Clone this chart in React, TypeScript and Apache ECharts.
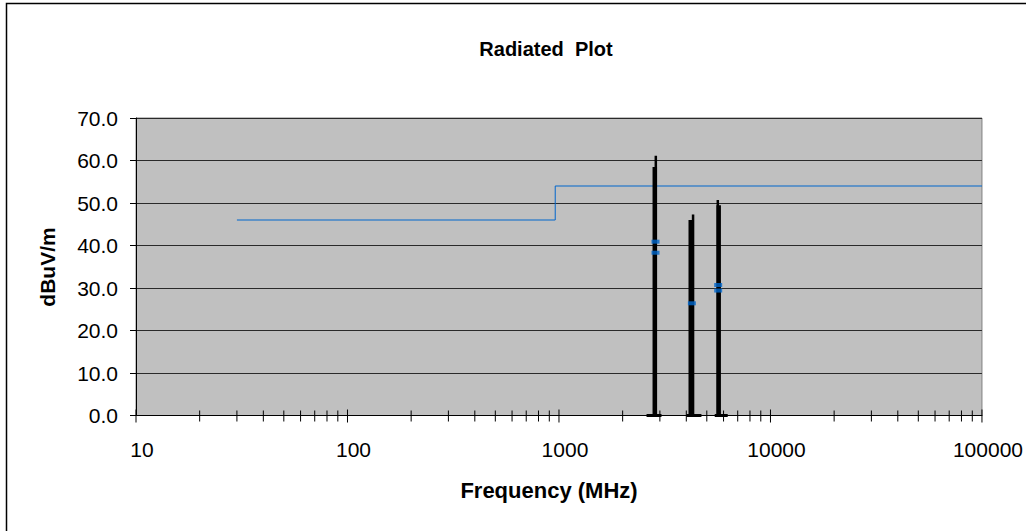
import React, { useEffect, useRef } from "react";
import * as echarts from "echarts";

// Limit line (MHz, dBuV/m)
const limitFreqs = [30, 960, 960, 100000];
const limitLevels = [46, 46, 54, 54];

// Measured emission traces (black bars)
const bodyFreqs = [2838, 4198, 5690];
const bodyLevels = [58.5, 46.0, 49.5];
const spikeFreqs = [2870, 4305, 5636];
const spikeLevels = [61.1, 47.3, 50.7];
const baseStarts = [2594, 4008, 5450];
const baseEnds = [3053, 4716, 6278];

// Blue markers
const markerFreqs = [2860, 2860, 4250, 5660, 5660];
const markerLevels = [40.9, 38.3, 26.4, 30.7, 29.4];

// Axis ticks
const majorTicks = [10, 100, 1000, 10000, 100000];
const minorMantissas = [2, 3, 4, 5, 6, 7, 8, 9];

export default function App() {
  const ref = useRef<HTMLDivElement>(null);
  useEffect(() => {
    if (!ref.current) return;
    const chart = echarts.init(ref.current, undefined, { renderer: "svg" });
    const font = "'Liberation Sans', Arial, sans-serif";
    const minorTicks: number[] = [];
    for (let i = 0; i < majorTicks.length - 1; i++) {
      for (const m of minorMantissas) minorTicks.push(majorTicks[i] * m);
    }
    const tickData = [
      ...majorTicks.map((v) => [v, 1]),
      ...minorTicks.map((v) => [v, 0]),
    ];
    const barRender = (w: number) => (params: any, api: any) => {
      const p0 = api.coord([api.value(0), 0]);
      const p1 = api.coord([api.value(0), api.value(1)]);
      return {
        type: "rect",
        shape: { x: p0[0] - w / 2, y: p1[1], width: w, height: p0[1] - p1[1] },
        style: { fill: "#000" },
      };
    };
    chart.setOption({
      animation: false,
      title: {
        text: "Radiated  Plot",
        left: 541,
        top: 34,
        textAlign: "center",
        textStyle: { fontFamily: font, fontSize: 20, fontWeight: "bold", color: "#000" },
      },
      graphic: [
        {
          type: "rect",
          shape: { x: 6.5, y: 3.5, width: 1040, height: 560 },
          style: { fill: "none", stroke: "#000", lineWidth: 1.5 },
          silent: true,
        },
        {
          type: "text",
          x: 47,
          y: 267,
          rotation: Math.PI / 2,
          style: {
            text: "dBuV/m",
            fontFamily: font,
            fontSize: 21,
            fontWeight: "bold",
            fill: "#000",
            align: "center",
            verticalAlign: "middle",
          },
        },
        {
          type: "text",
          x: 549,
          y: 490,
          style: {
            text: "Frequency (MHz)",
            fontFamily: font,
            fontSize: 22,
            fontWeight: "bold",
            fill: "#000",
            align: "center",
            verticalAlign: "middle",
          },
        },
      ],
      grid: {
        left: 136,
        right: 43,
        top: 118,
        bottom: 115.5,
        show: true,
        backgroundColor: "#C0C0C0",
        borderColor: "#808080",
        borderWidth: 1,
      },
      xAxis: {
        type: "log",
        logBase: 10,
        min: 10,
        max: 100000,
        axisLine: { show: true, lineStyle: { color: "#000", width: 1 } },
        axisTick: { show: false },
        splitLine: { show: false },
        axisLabel: {
          color: "#000",
          fontFamily: font,
          fontSize: 21,
          margin: 23,
          padding: [0, 0, 0, 12],
          formatter: (v: number) => String(Math.round(v)),
        },
      },
      yAxis: {
        type: "value",
        min: 0,
        max: 70,
        interval: 10,
        axisLine: { show: true, lineStyle: { color: "#000", width: 1 } },
        axisTick: { show: true, length: 6, lineStyle: { color: "#000" } },
        splitLine: { show: true, lineStyle: { color: "#2a2a2a", width: 1 } },
        axisLabel: {
          color: "#000",
          fontFamily: font,
          fontSize: 21,
          margin: 18,
          formatter: (v: number) => v.toFixed(1),
        },
      },
      series: [
        {
          type: "line",
          data: limitFreqs.map((f, i) => [f, limitLevels[i]]),
          symbol: "none",
          lineStyle: { color: "#0066CC", width: 1 },
          z: 3,
        },
        {
          type: "custom",
          data: bodyFreqs.map((f, i) => [f, bodyLevels[i]]),
          renderItem: barRender(4.5),
          z: 4,
        },
        {
          type: "custom",
          data: spikeFreqs.map((f, i) => [f, spikeLevels[i]]),
          renderItem: barRender(2.5),
          z: 4,
        },
        {
          type: "custom",
          data: baseStarts.map((s, i) => [s, baseEnds[i]]),
          renderItem: (params: any, api: any) => {
            const a = api.coord([api.value(0), 0]);
            const b = api.coord([api.value(1), 0]);
            return {
              type: "rect",
              shape: { x: a[0], y: a[1] - 1.5, width: b[0] - a[0], height: 3 },
              style: { fill: "#000" },
            };
          },
          clip: false,
          z: 4,
        },
        {
          type: "custom",
          data: tickData,
          renderItem: (params: any, api: any) => {
            const p = api.coord([api.value(0), 0]);
            const major = api.value(1) === 1;
            return {
              type: "line",
              shape: { x1: p[0], y1: p[1] - (major ? 6 : 5), x2: p[0], y2: p[1] + (major ? 7 : 6) },
              style: { stroke: "#000", lineWidth: 1 },
            };
          },
          clip: false,
          z: 5,
        },
        {
          type: "scatter",
          data: markerFreqs.map((f, i) => [f, markerLevels[i]]),
          symbol: "rect",
          symbolSize: [8, 4],
          itemStyle: { color: "#0066CC" },
          z: 6,
        },
      ],
    });
    return () => chart.dispose();
  }, []);
  return (
    <div
      ref={ref}
      style={{ position: "absolute", left: 0, top: 0, width: 1026, height: 531 }}
    />
  );
}
